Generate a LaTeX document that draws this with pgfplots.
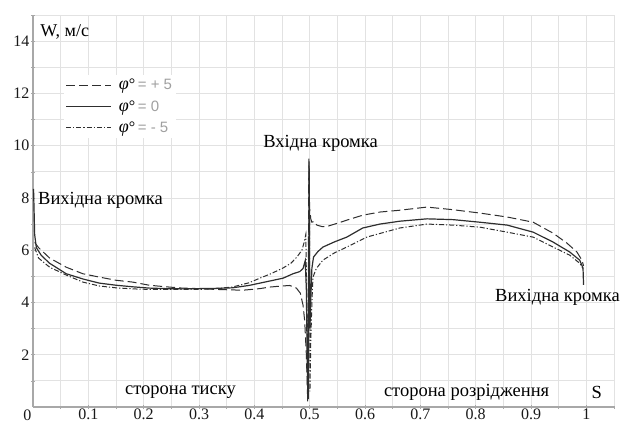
\documentclass[border=0pt]{standalone}
\usepackage{fontspec}
\setmainfont{Liberation Serif}
\newfontfamily\sansf{Liberation Sans}
\usepackage{pgfplots}
\pgfplotsset{compat=1.18}
\definecolor{gridc}{HTML}{E2E2E2}
\definecolor{axc}{HTML}{A8A8A8}
\definecolor{curve}{HTML}{2E2E2E}
\definecolor{eqc}{HTML}{A0A0A0}
\begin{document}
\begin{tikzpicture}
\begin{axis}[
  scale only axis, width=581pt, height=392pt,
  xmin=0, xmax=1.05, ymin=0, ymax=15,
  axis x line*=bottom, axis y line*=left,
  axis line style={draw=axc, line width=1.1pt, -},
  xtick={0.1,0.2,...,1.0},
  xticklabels={0.1,0.2,0.3,0.4,0.5,0.6,0.7,0.8,0.9,1},
  ytick={2,4,...,14},
  minor xtick={0.05,0.15,...,1.05},
  minor ytick={1,3,...,15},
  grid=both,
  major grid style={draw=gridc, line width=0.8pt},
  minor grid style={draw=gridc, line width=0.8pt},
  tick style={draw=axc, line width=0.6pt},
  major tick length=4pt, minor tick length=3pt,
  tick align=center,
  /pgf/number format/assume math mode=true,
  tick label style={font=\fontsize{16}{18}\selectfont, text=black!90},
  x tick label style={inner sep=0pt, text depth=0pt, text height=10pt, yshift=0pt},
  y tick label style={inner sep=1.5pt},
  legend style={at={(axis cs:0.055,12.7)}, anchor=north west, draw=none, fill=white,
    font=\fontsize{16}{18}\selectfont, row sep=5pt, column sep=5pt, inner sep=2pt},
  legend cell align=left,
  legend image code/.code={\draw[#1] (0pt,0pt) -- (45pt,0pt);},
  clip=false,
]
% phi = +5 (dashed)
\addplot[curve, line width=1.0pt, dash pattern=on 9pt off 4pt] coordinates {
(0.003,6.3) (0.01,6.1) (0.03,5.7) (0.06,5.35) (0.09,5.1) (0.12,4.97) (0.15,4.85)
(0.18,4.78) (0.21,4.66) (0.24,4.6) (0.27,4.55) (0.30,4.53) (0.33,4.5) (0.36,4.48)
(0.38,4.47) (0.41,4.53) (0.428,4.59) (0.45,4.63) (0.464,4.65) (0.476,4.55) (0.483,4.36)
(0.488,3.9) (0.491,3.3) (0.494,2.0) (0.4965,0.2) (0.4985,9.5) (0.5,7.6) (0.502,7.2)
(0.504,7.07) (0.508,7.1) (0.513,6.96) (0.523,6.9) (0.533,6.92) (0.55,7.03) (0.567,7.15)
(0.596,7.34) (0.627,7.46) (0.663,7.53) (0.712,7.65) (0.759,7.55) (0.808,7.42) (0.857,7.27)
(0.904,7.07) (0.94,6.65) (0.965,6.27) (0.983,5.93) (0.992,5.62) (0.995,5.4)
};
\addlegendentry{{\fontsize{18}{18}\selectfont\itshape φ}°\,{\sansf\fontsize{15}{18}\selectfont\color{eqc}= + 5}}
% phi = 0 (solid)
\addplot[curve, line width=1.2pt] coordinates {
(0.001,8.35) (0.003,6.6) (0.006,6.1) (0.015,5.8) (0.03,5.5) (0.06,5.1) (0.09,4.9)
(0.12,4.74) (0.15,4.66) (0.18,4.6) (0.21,4.55) (0.24,4.53) (0.27,4.52) (0.30,4.53)
(0.33,4.54) (0.36,4.56) (0.39,4.65) (0.41,4.74) (0.43,4.83) (0.452,4.93) (0.47,5.1)
(0.482,5.18) (0.488,5.3) (0.492,5.6) (0.494,4.5) (0.496,1.0) (0.4975,0.3) (0.499,9.4)
(0.5005,3.0) (0.502,4.1) (0.504,5.3) (0.507,5.74) (0.515,5.95) (0.524,6.12) (0.545,6.32)
(0.567,6.5) (0.596,6.85) (0.627,7.0) (0.663,7.11) (0.712,7.2) (0.759,7.17) (0.808,7.07)
(0.857,6.96) (0.904,6.69) (0.94,6.31) (0.97,5.93) (0.988,5.62) (0.994,5.32) (0.995,4.67)
};
\addlegendentry{{\fontsize{18}{18}\selectfont\itshape φ}°\,{\sansf\fontsize{15}{18}\selectfont\color{eqc}= 0}}
% phi = -5 (dash-dot)
\addplot[curve, line width=1.0pt, dash pattern=on 5pt off 2pt on 1.2pt off 2pt] coordinates {
(0.003,6.1) (0.01,5.7) (0.03,5.35) (0.06,5.05) (0.09,4.78) (0.12,4.63) (0.15,4.56)
(0.18,4.52) (0.21,4.5) (0.24,4.5) (0.27,4.5) (0.30,4.5) (0.33,4.53) (0.36,4.59)
(0.39,4.75) (0.41,4.93) (0.43,5.1) (0.452,5.32) (0.466,5.5) (0.477,5.74) (0.486,6.0)
(0.490,6.3) (0.493,6.6) (0.4955,3.0) (0.497,0.4) (0.4995,9.2) (0.5005,0.6) (0.502,2.5)
(0.504,4.0) (0.506,4.97) (0.512,5.3) (0.524,5.62) (0.545,5.9) (0.567,6.12) (0.603,6.5)
(0.663,6.85) (0.712,7.0) (0.759,6.96) (0.808,6.88) (0.857,6.69) (0.904,6.5) (0.94,6.12)
(0.97,5.81) (0.988,5.5) (0.994,5.3)
};
\addlegendentry{{\fontsize{18}{18}\selectfont\itshape φ}°\,{\sansf\fontsize{15}{18}\selectfont\color{eqc}= - 5}}
% annotations
\node[anchor=west, inner sep=0pt, font=\fontsize{18}{20}\selectfont] at (axis cs:0.013,14.35) {W, м/с};
\node[anchor=west, inner sep=0pt, font=\fontsize{18.5}{20}\selectfont] at (axis cs:0.009,7.92) {Вихідна кромка};
\node[anchor=west, inner sep=0pt, font=\fontsize{18.5}{20}\selectfont] at (axis cs:0.416,10.1) {Вхідна кромка};
\node[anchor=west, inner sep=0pt, font=\fontsize{18.5}{20}\selectfont] at (axis cs:0.835,4.2) {Вихідна кромка};
\node[anchor=west, inner sep=0pt, font=\fontsize{18.5}{20}\selectfont] at (axis cs:0.166,0.57) {сторона тиску};
\node[anchor=west, inner sep=0pt, font=\fontsize{18.5}{20}\selectfont] at (axis cs:0.634,0.57) {сторона розрідження};
\node[inner sep=0pt, font=\fontsize{18.5}{20}\selectfont] at (axis cs:1.019,0.54) {S};
\end{axis}
\node[inner sep=0pt, font=\fontsize{16}{18}\selectfont, text=black!90] at (-5.5pt,-8pt) {0};
\pgfresetboundingbox
\path[use as bounding box] (-33pt,-17pt) rectangle (592pt,407pt);
\end{tikzpicture}
\end{document}
